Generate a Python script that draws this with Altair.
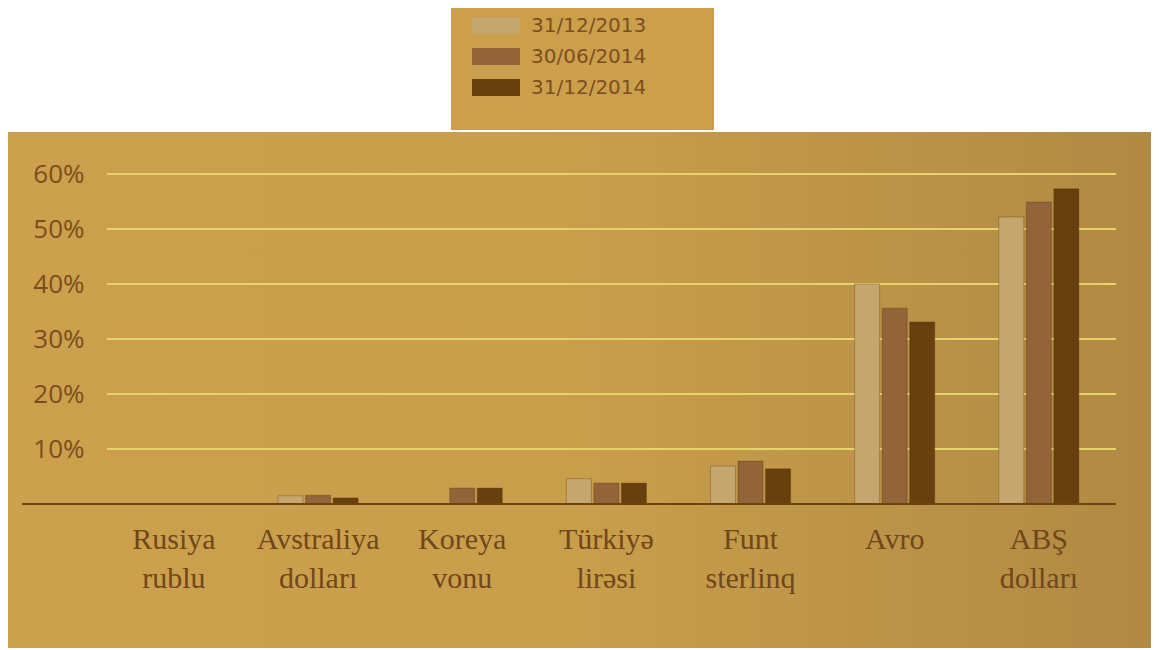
import altair as alt
import pandas as pd

categories = ["Rusiya rublu", "Avstraliya dolları", "Koreya vonu", "Türkiyə lirəsi",
              "Funt sterlinq", "Avro", "ABŞ dolları"]
series = ["31/12/2013", "30/06/2014", "31/12/2014"]
v_2013_12 = [0.0, 1.5, 0.0, 4.6, 6.9, 40.0, 52.2]
v_2014_06 = [0.0, 1.6, 2.9, 3.8, 7.8, 35.6, 54.9]
v_2014_12 = [0.0, 1.1, 2.9, 3.8, 6.4, 33.1, 57.3]
grid_values = [10, 20, 30, 40, 50, 60]
colors = ["#C6A66F", "#936437", "#68400F"]

rows = []
for s, vals in zip(series, [v_2013_12, v_2014_06, v_2014_12]):
    for c, v in zip(categories, vals):
        rows.append({"cat": c, "series": s, "value": v})
df = pd.DataFrame(rows)

W, H = 1009, 330

y_axis = alt.Axis(values=grid_values, labelExpr="datum.value + '%'", grid=False,
                  domain=False, ticks=False, labelFont="Open Sans",
                  labelFontSize=26, labelColor="#7A4E1E", labelPadding=23, zindex=2)
y_scale = alt.Scale(domain=[0, 60], nice=False)

panel = alt.Chart(alt.Data(values=[{"k": 1}])).mark_rect(
    fill={"gradient": "linear", "x1": 0, "x2": 1, "y1": 0, "y2": 0,
          "stops": [{"offset": 0, "color": "#CCA04C"},
                    {"offset": 0.5, "color": "#C99E4B"},
                    {"offset": 1, "color": "#B08943"}]}
).encode(x=alt.value(-101), x2=alt.value(1052), y=alt.value(-42), y2=alt.value(474))

legend_box = alt.Chart(alt.Data(values=[{"k": 1}])).mark_rect(fill="#CB9F4B").encode(
    x=alt.value(344), x2=alt.value(607), y=alt.value(-169), y2=alt.value(-44))

grid = alt.Chart(pd.DataFrame({"value": grid_values})).mark_rule(
    color="#E6D36B", strokeWidth=2
).encode(y=alt.Y("value:Q", title=None, scale=y_scale, axis=y_axis),
         x=alt.value(0), x2=alt.value(W))

bars = alt.Chart(df).mark_bar(stroke="#4a2e08", strokeOpacity=0.3, strokeWidth=1).encode(
    x=alt.X("cat:N", sort=categories, title=None,
            scale=alt.Scale(paddingInner=0.444, paddingOuter=0.222, align=0.42),
            axis=alt.Axis(labelExpr="split(datum.label, ' ')", labelAngle=0,
                          labelFont="Liberation Serif", labelFontSize=30,
                          labelColor="#70471A", labelLineHeight=39, labelPadding=20,
                          ticks=False, domain=False, labelOverlap=False, zindex=2)),
    xOffset=alt.XOffset("series:N", sort=series, scale=alt.Scale(paddingInner=0.09)),
    y=alt.Y("value:Q", title=None, scale=y_scale, axis=y_axis),
    color=alt.Color("series:N", sort=series,
                    scale=alt.Scale(domain=series, range=colors),
                    legend=alt.Legend(title=None, orient="none", legendX=365, legendY=-157,
                                      direction="vertical",
                                      symbolType="M-1,-0.354L1,-0.354L1,0.354L-1,0.354Z",
                                      symbolSize=2304, symbolStrokeWidth=0, symbolOpacity=1,
                                      clipHeight=17, rowPadding=10,
                                      labelFont="DejaVu Sans", labelFontSize=20,
                                      labelColor="#7A4F20", labelOffset=11, padding=0)),
)

base = alt.Chart(alt.Data(values=[{"k": 1}])).mark_rule(color="#6B4414", strokeWidth=2).encode(
    y=alt.datum(0), x=alt.value(-85), x2=alt.value(W))

chart = alt.layer(panel, legend_box, grid, bars, base).properties(
    width=W, height=H,
    padding={"left": 99, "top": 166, "right": 35, "bottom": 146},
    autosize=alt.AutoSizeParams(type="none"),
).configure_view(stroke=None).configure(background="white")

chart.save("out.html", embed_options={"renderer": "svg", "actions": False})
